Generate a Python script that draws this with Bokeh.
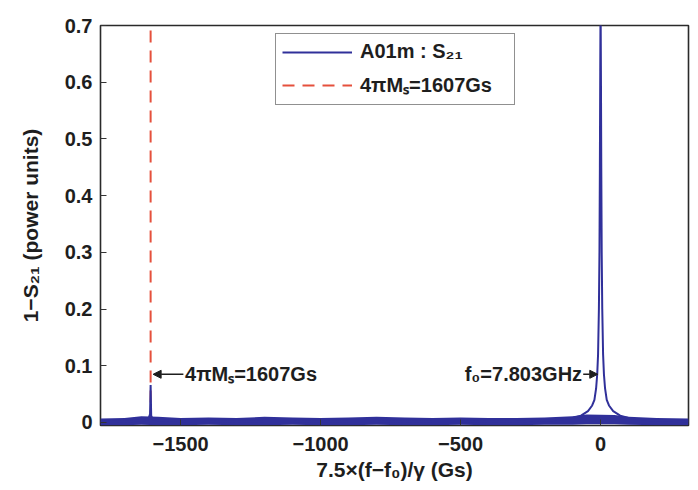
from bokeh.plotting import figure
from bokeh.models import Range1d, FixedTicker, Label, Arrow, NormalHead, Legend, LegendItem
from bokeh.embed import file_html
from bokeh.resources import INLINE

# ---- data ----
trace_x = [-1786, -1740, -1700, -1660, -1630, -1615, -1609, -1607, -1605, -1600,
           -1580, -1540, -1480, -1400, -1300, -1200, -1100, -1000, -900, -800,
           -700, -600, -500, -400, -300, -220, -150, -100, -70, -45,
           -30, -22, -16, -12, -9, -6, -4, -2.5, -1.2, 0,
           1.2, 2.5, 4, 6, 9, 12, 16, 22, 30, 45,
           70, 100, 150, 220, 314]
trace_y = [0.001, 0.002, 0.001, 0.003, 0.004, 0.006, 0.015, 0.066, 0.012, 0.006,
           0.004, 0.003, 0.002, 0.002, 0.001, 0.002, 0.002, 0.001, 0.002, 0.002,
           0.001, 0.002, 0.002, 0.001, 0.002, 0.003, 0.005, 0.008, 0.012, 0.020,
           0.030, 0.040, 0.060, 0.085, 0.120, 0.200, 0.300, 0.450, 0.620, 0.750,
           0.620, 0.450, 0.300, 0.200, 0.120, 0.085, 0.060, 0.040, 0.030, 0.020,
           0.012, 0.008, 0.005, 0.003, 0.002]

noise_x = [-1786, -1700, -1640, -1580, -1500, -1400, -1300, -1200, -1100, -1000,
           -900, -800, -700, -600, -500, -400, -300, -200, -100, -50,
           50, 100, 200, 314]
noise_hi = [0.007, 0.008, 0.011, 0.010, 0.008, 0.009, 0.008, 0.010, 0.009, 0.008,
            0.009, 0.010, 0.009, 0.008, 0.009, 0.008, 0.008, 0.009, 0.011, 0.014,
            0.013, 0.010, 0.008, 0.007]
noise_lo = [-0.005, -0.005, -0.004, -0.005, -0.005, -0.004, -0.005, -0.005, -0.004, -0.005,
            -0.005, -0.004, -0.005, -0.005, -0.004, -0.005, -0.005, -0.004, -0.004, -0.003,
            -0.003, -0.004, -0.005, -0.005]

ms_x = [-1607, -1607]
ms_y = [0.0, 0.7]

x_ticks = [-1500, -1000, -500, 0]
y_ticks = [0, 0.1, 0.2, 0.3, 0.4, 0.5, 0.6, 0.7]

series_label = "A01m : S₂₁"
ms_label = "4πMₛ=1607Gs"
f0_label = "f₀=7.803GHz"
x_title = "7.5×(f−f₀)/γ (Gs)"
y_title = "1−S₂₁ (power units)"

FONT = "Liberation Sans"
BLUE = "#30309a"
RED = "#e5503c"
INK = "#1e1e1e"

p = figure(width=698, height=490, output_backend="svg", toolbar_location=None,
           title=None,
           x_range=Range1d(-1786, 314), y_range=Range1d(-0.0053, 0.7),
           min_border_left=100, min_border_right=10, min_border_top=25, min_border_bottom=65)

p.background_fill_color = "white"
p.border_fill_color = "white"
p.outline_line_color = "#2a2a2a"
p.outline_line_width = 1.6
p.grid.visible = False

ms_r = p.line(ms_x, ms_y, line_color=RED, line_width=2, line_dash="12 8")
p.varea(x=noise_x, y1=noise_lo, y2=noise_hi, fill_color=BLUE, fill_alpha=1.0)
tr_r = p.line(trace_x, trace_y, line_color=BLUE, line_width=2)

for ax in (p.xaxis[0], p.yaxis[0]):
    ax.axis_line_color = None
    ax.major_tick_in = 6
    ax.major_tick_out = 0
    ax.minor_tick_line_color = None
    ax.major_tick_line_color = "#333333"
    ax.major_label_text_font = FONT
    ax.major_label_text_font_size = "20px"
    ax.major_label_text_font_style = "bold"
    ax.major_label_text_color = INK
    ax.axis_label_text_font = FONT
    ax.axis_label_text_font_size = "21px"
    ax.axis_label_text_font_style = "bold"
    ax.axis_label_text_color = INK

p.xaxis.ticker = FixedTicker(ticks=x_ticks)
p.yaxis.ticker = FixedTicker(ticks=y_ticks)
p.yaxis.major_label_overrides = {0: "0"}
p.xaxis.axis_label = x_title
p.yaxis.axis_label = y_title
p.xaxis.major_label_standoff = 11
p.xaxis.axis_label_standoff = 4
p.yaxis.major_label_standoff = 8
p.yaxis.axis_label_standoff = 20

legend = Legend(items=[LegendItem(label=series_label, renderers=[tr_r]),
                       LegendItem(label=ms_label, renderers=[ms_r])],
                location=(175, 320))
legend.label_text_font = FONT
legend.label_text_font_size = "20px"
legend.label_text_font_style = "bold"
legend.label_text_color = INK
legend.glyph_width = 70
legend.glyph_height = 22
legend.label_height = 22
legend.label_width = 148
legend.spacing = 8
legend.padding = 6
legend.margin = 0
legend.label_standoff = 8
legend.border_line_color = "#222222"
legend.border_line_width = 1.5
legend.background_fill_alpha = 1.0
p.add_layout(legend)

ann_y = 0.085
p.add_layout(Arrow(end=NormalHead(size=8, fill_color=INK, line_color=INK),
                   x_start=-1490, y_start=ann_y, x_end=-1598, y_end=ann_y,
                   line_color=INK, line_width=1.5))
p.add_layout(Label(x=-1484, y=ann_y, text=ms_label, text_align="left", text_baseline="middle",
                   text_font=FONT, text_font_size="20px", text_font_style="bold", text_color=INK))
p.add_layout(Arrow(end=NormalHead(size=8, fill_color=INK, line_color=INK),
                   x_start=-62, y_start=ann_y, x_end=-10, y_end=ann_y,
                   line_color=INK, line_width=1.5))
p.add_layout(Label(x=-66, y=ann_y, text=f0_label, text_align="right", text_baseline="middle",
                   text_font=FONT, text_font_size="20px", text_font_style="bold", text_color=INK))

open("out.html", "w").write(file_html(p, INLINE))
